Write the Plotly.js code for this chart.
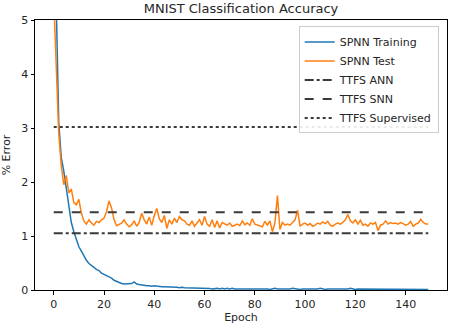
<!DOCTYPE html>
<html>
<head>
<meta charset="utf-8">
<script src="https://cdn.plot.ly/plotly-3.0.1.min.js"></script>
<style>
  html, body { margin: 0; padding: 0; background: #fff; }
  #chart { width: 454px; height: 328px; }
</style>
</head>
<body>
<div id="chart"></div>
<script>
// % error per epoch
const trainErr = [
  9.0, 5.3, 3.1, 2.45, 2.2, 1.85, 1.5, 1.25, 1.08, 0.95,
  0.8, 0.72, 0.62, 0.55, 0.49, 0.46, 0.42, 0.38, 0.36, 0.31,
  0.29, 0.27, 0.25, 0.22, 0.18, 0.16, 0.13, 0.12, 0.11, 0.11,
  0.11, 0.12, 0.15, 0.11, 0.10, 0.09, 0.09, 0.08, 0.08, 0.07,
  0.08, 0.07, 0.07, 0.06, 0.06, 0.06, 0.05, 0.06, 0.05, 0.05,
  0.04, 0.05, 0.04, 0.04, 0.04, 0.03, 0.04, 0.03, 0.04, 0.03,
  0.03, 0.03, 0.03, 0.02, 0.03, 0.03, 0.02, 0.03, 0.02, 0.03,
  0.02, 0.03, 0.02, 0.02, 0.03, 0.02, 0.02, 0.02, 0.03, 0.02,
  0.02, 0.02, 0.03, 0.02, 0.02, 0.02, 0.01, 0.02, 0.03, 0.02,
  0.02, 0.02, 0.01, 0.02, 0.02, 0.03, 0.02, 0.02, 0.01, 0.02,
  0.02, 0.02, 0.02, 0.01, 0.02, 0.02, 0.03, 0.02, 0.01, 0.02,
  0.02, 0.01, 0.02, 0.02, 0.02, 0.01, 0.02, 0.02, 0.03, 0.02,
  0.01, 0.02, 0.02, 0.01, 0.02, 0.02, 0.01, 0.02, 0.02, 0.01,
  0.02, 0.02, 0.01, 0.02, 0.01, 0.02, 0.02, 0.01, 0.02, 0.01,
  0.02, 0.01, 0.02, 0.02, 0.01, 0.02, 0.01, 0.02, 0.01, 0.01
];

const testErr = [
  5.4, 4.0, 2.9, 2.3, 1.95, 2.12, 1.8, 1.87, 1.62, 1.58,
  1.68, 1.42, 1.28, 1.22, 1.30, 1.24, 1.20, 1.27, 1.25, 1.30,
  1.33, 1.45, 1.65, 1.52, 1.30, 1.19, 1.22, 1.24, 1.30, 1.22,
  1.17, 1.21, 1.28, 1.18, 1.25, 1.42, 1.30, 1.22, 1.35, 1.20,
  1.38, 1.51, 1.32, 1.25, 1.38, 1.14, 1.30, 1.22, 1.33, 1.25,
  1.36, 1.30, 1.28, 1.22, 1.20, 1.28, 1.18, 1.25, 1.30, 1.20,
  1.36, 1.22, 1.18, 1.30, 1.16, 1.28, 1.15, 1.25, 1.22, 1.20,
  1.24, 1.18, 1.20, 1.22, 1.19, 1.28, 1.21, 1.24, 1.20, 1.32,
  1.22, 1.20, 1.18, 1.17, 1.27, 1.20, 1.28, 1.08, 1.25, 1.75,
  1.12, 1.25, 1.20, 1.22, 1.20, 1.25, 1.30, 1.48, 1.18, 1.22,
  1.24, 1.20, 1.23, 1.18, 1.20, 1.24, 1.22, 1.26, 1.23, 1.27,
  1.20, 1.18, 1.22, 1.24, 1.22, 1.25, 1.30, 1.40, 1.28, 1.24,
  1.30, 1.22, 1.29, 1.20, 1.22, 1.18, 1.24, 1.22, 1.25, 1.10,
  1.20, 1.22, 1.28, 1.22, 1.25, 1.23, 1.24, 1.22, 1.25, 1.23,
  1.20, 1.22, 1.27, 1.18, 1.22, 1.24, 1.31, 1.25, 1.22, 1.22
];

// reference baselines
const refNames = ["TTFS ANN", "TTFS SNN", "TTFS Supervised"];
const refValues = [1.05, 1.44, 3.02];
const refSpan = [0, 149];

const epochs = trainErr.map((_, i) => i);
const refDash = ["dashdot", "dash", "dot"];

const traces = [
  {
    x: epochs, y: trainErr, name: "SPNN Training",
    mode: "lines", type: "scatter",
    line: { color: "#1f77b4", width: 1.5 }
  },
  {
    x: epochs, y: testErr, name: "SPNN Test",
    mode: "lines", type: "scatter",
    line: { color: "#ff7f0e", width: 1.5 }
  }
];

refNames.forEach((name, i) => {
  traces.push({
    x: refSpan, y: [refValues[i], refValues[i]], name: name,
    mode: "lines", type: "scatter",
    line: { color: "#3a3a3a", width: 2, dash: refDash[i] }
  });
});

const axisStyle = {
  showline: true, mirror: true, linecolor: "#000", linewidth: 1,
  ticks: "outside", ticklen: 3.5, tickcolor: "#000", tickwidth: 1,
  showgrid: false, zeroline: false,
  tickfont: { size: 11, color: "#262626" }
};

const layout = {
  width: 454, height: 328,
  margin: { l: 35, r: 7, t: 19.5, b: 38 },
  paper_bgcolor: "#fff", plot_bgcolor: "#fff",
  font: { family: "DejaVu Sans", size: 11, color: "#262626" },
  title: {
    text: "MNIST Classification Accuracy",
    font: { size: 13 },
    xref: "paper", x: 0.5, xanchor: "center",
    yref: "container", y: 0.973, yanchor: "middle"
  },
  xaxis: Object.assign({}, axisStyle, {
    range: [-7.45, 156.45], tickvals: [0, 20, 40, 60, 80, 100, 120, 140],
    title: { text: "Epoch", font: { size: 11 }, standoff: 2 }
  }),
  yaxis: Object.assign({}, axisStyle, {
    range: [0, 5], dtick: 1,
    title: { text: "% Error", font: { size: 11 }, standoff: 8 }
  }),
  showlegend: true,
  legend: {
    x: 0.64, y: 0.976, xanchor: "left", yanchor: "top",
    bgcolor: "rgba(255,255,255,0.9)", bordercolor: "#cccccc", borderwidth: 1,
    font: { size: 11, color: "#262626" },
    tracegroupgap: 0
  }
};

Plotly.newPlot("chart", traces, layout, { displayModeBar: false, staticPlot: true });
</script>
</body>
</html>
